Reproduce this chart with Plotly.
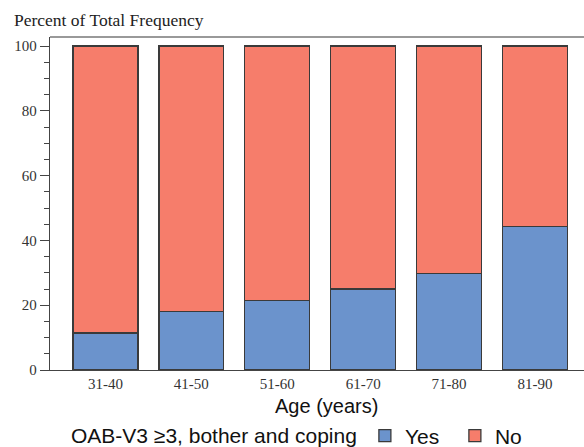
import plotly.graph_objects as go

categories = ["31-40", "41-50", "51-60", "61-70", "71-80", "81-90"]
yes_pct = [11.4, 18.0, 21.4, 25.0, 29.8, 44.4]
no_pct = [round(100 - v, 1) for v in yes_pct]
y_ticks = [0, 20, 40, 60, 80, 100]

BLUE = "#6b93cc"
RED = "#f67d6b"
EDGE = "#3a3a3a"

fig = go.Figure()
fig.add_trace(go.Bar(x=categories, y=yes_pct, name="Yes",
                     marker=dict(color=BLUE, line=dict(color=EDGE, width=1.3))))
fig.add_trace(go.Bar(x=categories, y=no_pct, name="No",
                     marker=dict(color=RED, line=dict(color=EDGE, width=1.3))))

serif = "Liberation Serif, Times New Roman, serif"
sans = "Liberation Sans, Arial, sans-serif"

fig.update_layout(
    barmode="stack",
    bargap=0.245,
    width=584, height=447,
    margin=dict(l=50, r=0, t=37, b=77, autoexpand=False),
    plot_bgcolor="white", paper_bgcolor="white",
    showlegend=True,
    legend=dict(orientation="h", x=0.0356, xanchor="left", y=(370 - 436) / 333, yanchor="middle",
                title=dict(text="OAB-V3 ≥3, bother and coping", font=dict(family=sans, size=21, color="#111")),
                font=dict(family=sans, size=21, color="#111"),
                entrywidth=45, entrywidthmode="pixels", tracegroupgap=0,
                traceorder="normal", bgcolor="rgba(0,0,0,0)"),
    xaxis=dict(range=[-0.645, 5.57], showline=True, linecolor="#444", linewidth=1.3,
               ticks="", tickfont=dict(family=serif, size=15, color="#333"),
               showgrid=False, zeroline=False, fixedrange=True),
    yaxis=dict(range=[0, 102.8], showline=True, linecolor="#444", linewidth=1.3,
               tickvals=y_ticks, ticks="outside", ticklen=9, tickcolor="#444", tickwidth=1.3,
               minor=dict(dtick=5, ticks="outside", ticklen=5, tickcolor="#444", tickwidth=1.2),
               tickfont=dict(family=serif, size=15, color="#333"),
               showgrid=False, zeroline=False),
)

fig.add_shape(type="line", xref="paper", yref="paper", x0=0, x1=1, y0=1, y1=1,
              line=dict(color="#777", width=1.3))

fig.add_annotation(text="Percent of Total Frequency", xref="paper", yref="paper",
                   x=(12 - 50) / 534, y=(370 - 20) / 333, xanchor="left", yanchor="middle", showarrow=False,
                   font=dict(family=serif, size=17.5, color="#222"))
fig.add_annotation(text="Age (years)", xref="paper", yref="paper",
                   x=(326 - 50) / 534, y=(370 - 406) / 333, xanchor="center", yanchor="middle",
                   showarrow=False, font=dict(family=sans, size=20, color="#111"))

fig.write_html("out.html", config={"displayModeBar": False},
               post_script="document.body.style.margin='0';document.body.style.overflow='hidden';")
